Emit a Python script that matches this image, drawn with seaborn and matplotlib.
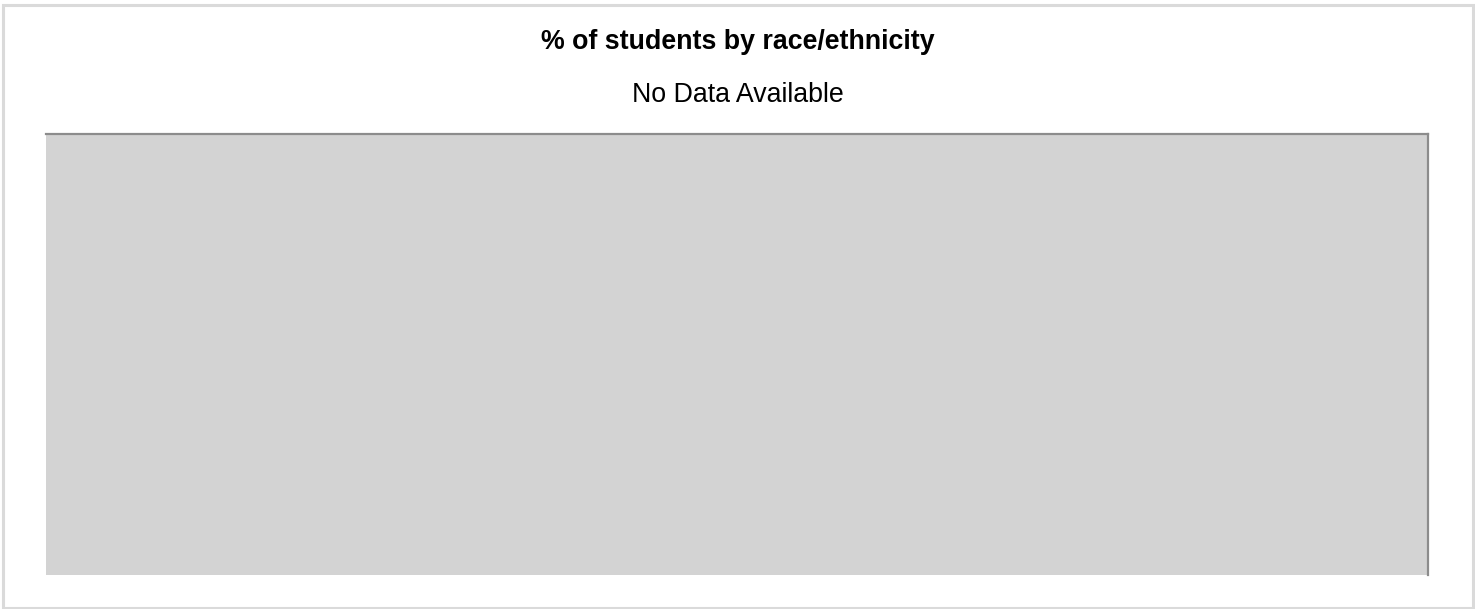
import matplotlib
matplotlib.use("Agg")
import matplotlib.pyplot as plt
import seaborn as sns
import pandas as pd
from matplotlib.patches import Rectangle

# Data (none available for this chart)
categories = []
values = []
title_text = "% of students by race/ethnicity"
message_text = "No Data Available"

sns.set_theme(style="white")
plt.rcParams['font.family'] = ['Liberation Sans', 'DejaVu Sans']

W, H = 1475, 609
fig = plt.figure(figsize=(W / 100, H / 100), dpi=100)
fig.patch.set_facecolor("white")

# outer light-gray frame
fig.patches.append(Rectangle((2.5 / W, 1.5 / H), (W - 4.5) / W, (H - 6.5) / H,
                             transform=fig.transFigure, fill=False,
                             edgecolor="#dadada", linewidth=2.2))

ax = fig.add_axes([46 / W, 1 - 575 / H, (1428 - 46) / W, (575 - 134) / H])
df = pd.DataFrame({"category": categories, "value": values})
if len(df):
    sns.barplot(data=df, x="category", y="value", ax=ax)
ax.set_facecolor("#d3d3d3")
ax.set_xticks([])
ax.set_yticks([])
ax.set_xlabel("")
ax.set_ylabel("")
for s in ["left", "bottom"]:
    ax.spines[s].set_visible(False)
for s in ["top", "right"]:
    ax.spines[s].set_visible(True)
    ax.spines[s].set_color("#8c8c8c")
    ax.spines[s].set_linewidth(1.6)

fig.text(738 / W, 1 - 42 / H, title_text, ha="center", va="center",
         fontsize=19.3, fontweight="bold", color="black")
fig.text(738 / W, 1 - 95 / H, message_text, ha="center", va="center",
         fontsize=19.3, color="black")

fig.savefig("out.png", dpi=100)
